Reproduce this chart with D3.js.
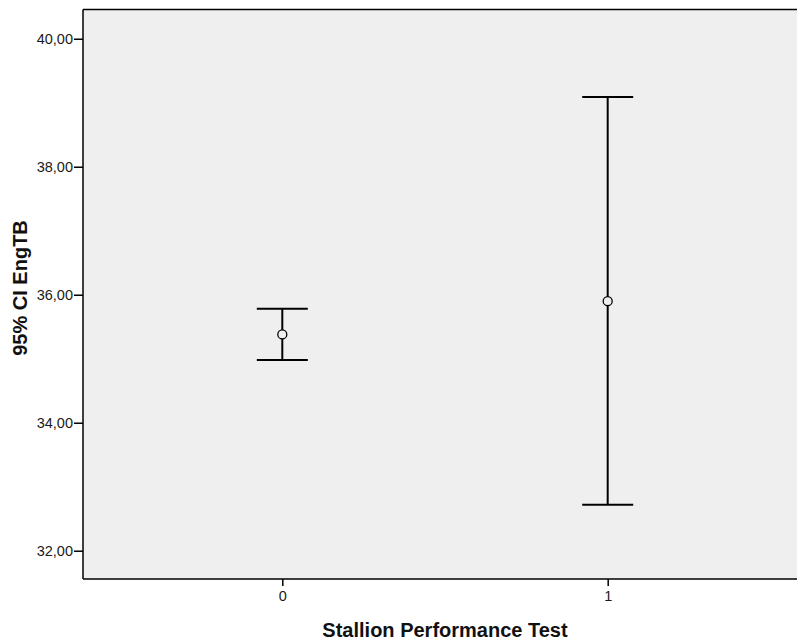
<!DOCTYPE html>
<html>
<head>
<meta charset="utf-8">
<script src="https://cdn.jsdelivr.net/npm/d3@7"></script>
<style>
  html, body { margin: 0; padding: 0; background: #fff; }
  svg { display: block; }
</style>
</head>
<body>
<svg id="chart" width="797" height="641"></svg>
<script>
const categories = [0, 1];
const means = [35.38, 35.90];
const lowerCI = [34.98, 32.72];
const upperCI = [35.78, 39.09];
const yTicks = [32, 34, 36, 38, 40];
const xLabel = "Stallion Performance Test";
const yLabel = "95% CI EngTB";

const svg = d3.select("#chart");
const plot = { left: 83, top: 9.5, right: 807, bottom: 579 };

const x = d3.scaleLinear().domain([-0.6125, 1.6125]).range([plot.left, plot.right]);
const y = d3.scaleLinear().domain([31.558, 40.457]).range([plot.bottom, plot.top]);

const fmt = v => d3.format(".2f")(v).replace(".", ",");
const FONT = "Arial, 'Liberation Sans', sans-serif";

// background
svg.append("rect")
  .attr("x", plot.left).attr("y", plot.top)
  .attr("width", plot.right - plot.left).attr("height", plot.bottom - plot.top)
  .attr("fill", "#efefef");

// axes
const yAxis = svg.append("g")
  .attr("transform", `translate(${plot.left},0)`)
  .call(d3.axisLeft(y).tickValues(yTicks).tickFormat(fmt).tickSize(9).tickPadding(1));
const xAxis = svg.append("g")
  .attr("transform", `translate(0,${plot.bottom})`)
  .call(d3.axisBottom(x).tickValues(categories).tickFormat(d3.format("d")).tickSize(7).tickPadding(5));

[yAxis, xAxis].forEach(g => {
  g.attr("font-size", null).attr("font-family", null);
  g.select(".domain").remove();
  g.selectAll(".tick line").attr("stroke", "#000").attr("stroke-width", 1.5);
  g.selectAll(".tick text").attr("fill", "#1a1a1a").style("font-family", FONT).style("font-size", "14.5px");
});

// frame
svg.append("line").attr("x1", plot.left).attr("x2", plot.left).attr("y1", plot.top).attr("y2", plot.bottom)
  .attr("stroke", "#000").attr("stroke-width", 1.5);
svg.append("line").attr("x1", plot.left).attr("x2", plot.right).attr("y1", plot.bottom).attr("y2", plot.bottom)
  .attr("stroke", "#000").attr("stroke-width", 1.5);
svg.append("line").attr("x1", plot.left).attr("x2", plot.right).attr("y1", plot.top).attr("y2", plot.top)
  .attr("stroke", "#000").attr("stroke-width", 1.5);

// error bars
const data = categories.map((c, i) => ({ c, m: means[i], lo: lowerCI[i], hi: upperCI[i] }));
const capHalf = 25.5;
const g = svg.append("g").attr("stroke", "#000").attr("stroke-width", 2).attr("fill", "none");
data.forEach(d => {
  const cx = x(d.c);
  g.append("line").attr("x1", cx).attr("x2", cx).attr("y1", y(d.hi)).attr("y2", y(d.lo));
  g.append("line").attr("x1", cx - capHalf).attr("x2", cx + capHalf).attr("y1", y(d.hi)).attr("y2", y(d.hi));
  g.append("line").attr("x1", cx - capHalf).attr("x2", cx + capHalf).attr("y1", y(d.lo)).attr("y2", y(d.lo));
  g.append("circle").attr("cx", cx).attr("cy", y(d.m)).attr("r", 4.5)
    .attr("fill", "#efefef").attr("stroke-width", 1.3);
});

// axis titles
svg.append("text")
  .attr("x", 445).attr("y", 637)
  .attr("text-anchor", "middle")
  .style("font-family", FONT)
  .attr("font-weight", "bold").style("font-size", "20px").attr("fill", "#111")
  .text(xLabel);
svg.append("text")
  .attr("transform", `translate(27,${288}) rotate(-90)`)
  .attr("text-anchor", "middle")
  .style("font-family", FONT)
  .attr("font-weight", "bold").style("font-size", "20px").attr("fill", "#111")
  .text(yLabel);
</script>
</body>
</html>
